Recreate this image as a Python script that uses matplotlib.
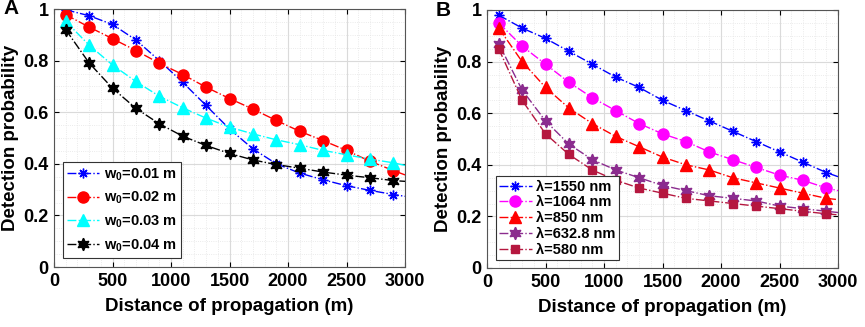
import matplotlib
matplotlib.use("Agg")
import matplotlib.pyplot as plt
from matplotlib.ticker import MultipleLocator

plt.rcParams['font.family'] = ['Liberation Sans', 'DejaVu Sans']
plt.rcParams['font.weight'] = 'bold'
plt.rcParams['mathtext.fontset'] = 'custom'
plt.rcParams['mathtext.rm'] = 'Liberation Sans:bold'
plt.rcParams['mathtext.default'] = 'rm'

# distance of propagation (m)
x = [100, 300, 500, 700, 900, 1100, 1300, 1500, 1700, 1900, 2100, 2300, 2500, 2700, 2900, 3000]

# panel A: beam waist
w_labels = ['w$_0$=0.01 m', 'w$_0$=0.02 m', 'w$_0$=0.03 m', 'w$_0$=0.04 m']
w001 = [0.997, 0.974, 0.94, 0.88, 0.80, 0.716, 0.626, 0.535, 0.458, 0.40, 0.364, 0.338, 0.315, 0.297, 0.281, 0.274]
w002 = [0.978, 0.93, 0.885, 0.839, 0.79, 0.746, 0.697, 0.653, 0.612, 0.568, 0.526, 0.49, 0.452, 0.41, 0.374, 0.357]
w003 = [0.952, 0.86, 0.783, 0.719, 0.662, 0.617, 0.577, 0.542, 0.516, 0.493, 0.474, 0.452, 0.435, 0.418, 0.404, 0.394]
w004 = [0.92, 0.791, 0.693, 0.615, 0.555, 0.507, 0.471, 0.44, 0.415, 0.397, 0.383, 0.368, 0.356, 0.346, 0.335, 0.332]

# panel B: wavelength
l_labels = ['λ=1550 nm', 'λ=1064 nm', 'λ=850 nm', 'λ=632.8 nm', 'λ=580 nm']
l1550 = [0.98, 0.93, 0.89, 0.84, 0.79, 0.74, 0.70, 0.65, 0.61, 0.57, 0.53, 0.49, 0.45, 0.41, 0.37, 0.354]
l1064 = [0.95, 0.86, 0.79, 0.72, 0.66, 0.61, 0.56, 0.52, 0.49, 0.45, 0.42, 0.39, 0.36, 0.34, 0.31, 0.30]
l850 = [0.93, 0.80, 0.70, 0.62, 0.56, 0.51, 0.47, 0.43, 0.40, 0.38, 0.35, 0.33, 0.31, 0.29, 0.27, 0.265]
l632 = [0.87, 0.69, 0.57, 0.48, 0.42, 0.38, 0.35, 0.32, 0.30, 0.28, 0.27, 0.26, 0.24, 0.23, 0.22, 0.215]
l580 = [0.85, 0.65, 0.52, 0.44, 0.38, 0.34, 0.31, 0.29, 0.27, 0.26, 0.25, 0.24, 0.23, 0.22, 0.21, 0.206]

asterisk = (8, 2, 0)
hexagram = (6, 1, 0)
marks = list(range(15))  # last point (3000 m) has no marker

fig = plt.figure(figsize=(8.65, 3.27), dpi=100)
axA = fig.add_axes([54 / 865, 1 - 267 / 327, 351 / 865, 258 / 327])
axB = fig.add_axes([487 / 865, 1 - 268 / 327, 351 / 865, 258 / 327])

seriesA = [(w001, '#0000FF', asterisk, 7), (w002, '#FF0000', 'o', 8),
           (w003, '#00FFFF', '^', 8), (w004, '#000000', hexagram, 9)]
for (y, c, m, ms), lab in zip(seriesA, w_labels):
    axA.plot(x, y, linestyle='-.', color=c, marker=m, markersize=ms, lw=1,
             markevery=marks, label=lab)

seriesB = [(l1550, '#0000FF', asterisk, 7), (l1064, '#FF00FF', 'o', 8),
           (l850, '#FF0000', '^', 8), (l632, '#8B2C8E', hexagram, 9),
           (l580, '#B5173F', 's', 6)]
for (y, c, m, ms), lab in zip(seriesB, l_labels):
    axB.plot(x, y, linestyle='-.', color=c, marker=m, markersize=ms, lw=1,
             markevery=marks, label=lab)

for ax, letter in [(axA, 'A'), (axB, 'B')]:
    ax.set_xlim(0, 3000)
    ax.set_ylim(0, 1)
    ax.xaxis.set_major_locator(MultipleLocator(500))
    ax.xaxis.set_minor_locator(MultipleLocator(100))
    ax.yaxis.set_major_locator(MultipleLocator(0.2))
    ax.yaxis.set_minor_locator(MultipleLocator(0.05))
    ax.set_yticks([0, 0.2, 0.4, 0.6, 0.8, 1])
    ax.set_yticklabels(['0', '0.2', '0.4', '0.6', '0.8', '1'])
    ax.grid(which='major', color='#DADADA', lw=0.8)
    ax.grid(which='minor', color='#E4E4E4', lw=0.6, linestyle=':')
    ax.set_axisbelow(True)
    ax.tick_params(which='both', direction='in', top=True, right=True,
                   labelsize=13, pad=4)
    ax.tick_params(which='minor', length=0)
    for s in ax.spines.values():
        s.set_color('#555555')
        s.set_linewidth(0.8)
    ax.set_xlabel('Distance of propagation (m)', fontsize=13.5, fontweight='bold', labelpad=6)
    ax.set_ylabel('Detection probability', fontsize=13.5, fontweight='bold', labelpad=3)
    ax.text(-0.145, 1.0, letter, transform=ax.transAxes, fontsize=15,
            fontweight='bold', va='center', ha='left')

legA = axA.legend(loc='lower left', bbox_to_anchor=(0.025, 0.035), fontsize=10.5,
                  fancybox=False, edgecolor='#333333', framealpha=1,
                  handlelength=2.2, borderpad=0.3, labelspacing=0.5, handletextpad=0.3,
                  borderaxespad=0)
legB = axB.legend(loc='lower left', bbox_to_anchor=(0.025, 0.03), fontsize=10.5,
                  fancybox=False, edgecolor='#333333', framealpha=1,
                  handlelength=2.2, borderpad=0.25, labelspacing=0.12, handletextpad=0.3,
                  borderaxespad=0)
for leg in (legA, legB):
    leg.get_frame().set_linewidth(0.8)

fig.savefig('out.png', dpi=100)
